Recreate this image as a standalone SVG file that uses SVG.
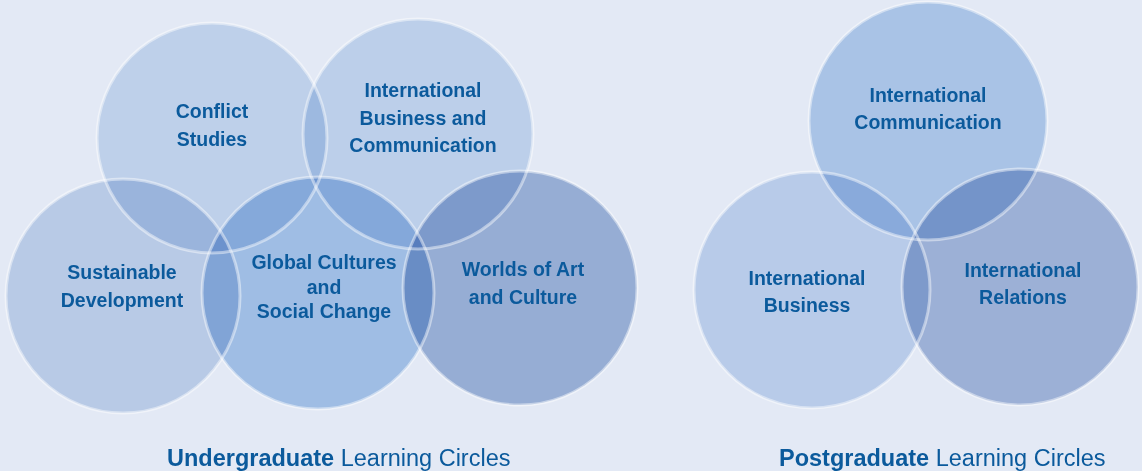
<svg xmlns="http://www.w3.org/2000/svg" width="1142" height="471" viewBox="0 0 1142 471">
<style>
.c{mix-blend-mode:multiply}
.ring{fill:none;stroke:#ffffff;stroke-opacity:0.45;stroke-width:3}
.t{font-family:"Liberation Sans",Arial,sans-serif;font-weight:bold;font-size:19.5px;fill:#0b5a9c;text-anchor:middle}
.cap{font-family:"Liberation Sans",Arial,sans-serif;font-size:23.5px;fill:#0b5a9c}
.b{font-weight:bold}
</style>
<rect width="1142" height="471" fill="#e3e9f5"/>
<g id="undergraduate">
<g id="conflict-studies"><circle class="c" cx="212" cy="138" r="115" fill="#d6e4f4"/></g>
<g id="intl-business-communication"><circle class="c" cx="418" cy="134" r="115" fill="#d3e3f4"/></g>
<g id="sustainable-development"><circle class="c" cx="123" cy="296" r="117" fill="#cfddf0"/></g>
<g id="global-cultures"><circle class="c" cx="318" cy="293" r="116" fill="#b3cfee"/></g>
<g id="worlds-of-art"><circle class="c" cx="520" cy="288" r="117" fill="#a9bedd"/></g>
</g>
<g id="postgraduate">
<g id="intl-communication"><circle class="c" cx="928" cy="121" r="119" fill="#bed6f0"/></g>
<g id="intl-business"><circle class="c" cx="812" cy="290" r="118" fill="#cfdff3"/></g>
<g id="intl-relations"><circle class="c" cx="1020" cy="287" r="118" fill="#afc1df"/></g>
</g>
<g id="rings">
<circle class="ring" cx="212" cy="138" r="115"/>
<circle class="ring" cx="418" cy="134" r="115"/>
<circle class="ring" cx="123" cy="296" r="117"/>
<circle class="ring" cx="318" cy="293" r="116"/>
<circle class="ring" cx="520" cy="288" r="117"/>
<circle class="ring" cx="928" cy="121" r="119"/>
<circle class="ring" cx="812" cy="290" r="118"/>
<circle class="ring" cx="1020" cy="287" r="118"/>
</g>
<g id="labels">
<text class="t" x="212" y="118">Conflict</text>
<text class="t" x="212" y="146">Studies</text>
<text class="t" x="423" y="97">International</text>
<text class="t" x="423" y="125">Business and</text>
<text class="t" x="423" y="152">Communication</text>
<text class="t" x="122" y="279">Sustainable</text>
<text class="t" x="122" y="307">Development</text>
<text class="t" x="324" y="269">Global Cultures</text>
<text class="t" x="324" y="294">and</text>
<text class="t" x="324" y="318">Social Change</text>
<text class="t" x="523" y="276">Worlds of Art</text>
<text class="t" x="523" y="304">and Culture</text>
<text class="t" x="928" y="102">International</text>
<text class="t" x="928" y="129">Communication</text>
<text class="t" x="807" y="285">International</text>
<text class="t" x="807" y="312">Business</text>
<text class="t" x="1023" y="277">International</text>
<text class="t" x="1023" y="304">Relations</text>
</g>
<g id="captions">
<text class="cap" x="167" y="466"><tspan class="b">Undergraduate</tspan> Learning Circles</text>
<text class="cap" x="779" y="466"><tspan class="b">Postgraduate</tspan> Learning Circles</text>
</g>
</svg>
